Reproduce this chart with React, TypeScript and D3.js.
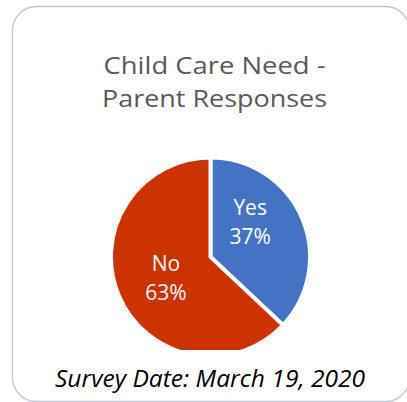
import React from "react";
import * as d3 from "d3";

const categories = ["Yes", "No"];
const values = [37, 63];
const colors = ["#4472c4", "#cc3300"];
const titleLines = ["Child Care Need -", "Parent Responses"];
const footer = "Survey Date: March 19, 2020";

export default function App() {
  const W = 407, H = 402;
  const cx = 210.5, cy = 257, r = 99.5;
  const pie = d3.pie<number>().sort(null).value((d) => d)(values);
  const arc = d3.arc<d3.PieArcDatum<number>>().innerRadius(0).outerRadius(r);
  const labelArc = d3.arc<d3.PieArcDatum<number>>().innerRadius(r * 0.5).outerRadius(r * 0.5);
  const labelNudge = [[-6, -16], [1, 0]];
  const font = "'Open Sans', sans-serif";
  const titleLens = [222, 225];
  return (
    <svg width={W} height={H} style={{ position: "absolute", left: 0, top: 0 }}>
      <defs>
        <clipPath id="plot">
          <rect x={0} y={0} width={W} height={350} />
        </clipPath>
      </defs>
      <rect x={0} y={0} width={W} height={H} fill="#fff" />
      <rect x={12.5} y={6.5} width={397} height={395} rx={24} ry={24} fill="#fff" stroke="#bcc6d6" strokeWidth={1.3} />
      {titleLines.map((t, i) => (
        <text key={t} x={214.5} y={73.5 + i * 33.5} textAnchor="middle" fontFamily={font} fontSize={24.5} fill="#595959"
          textLength={titleLens[i]} lengthAdjust="spacingAndGlyphs">
          {t}
        </text>
      ))}
      <g clipPath="url(#plot)">
        <g transform={`translate(${cx},${cy})`}>
          {pie.map((d, i) => (
            <path key={categories[i]} d={arc(d) || ""} fill={colors[i]} stroke="#fff" strokeWidth={4} strokeLinejoin="miter" />
          ))}
        </g>
      </g>
      <g transform={`translate(${cx},${cy})`}>
        {pie.map((d, i) => {
          const [lx0, ly0] = labelArc.centroid(d);
          const lx = lx0 + labelNudge[i][0];
          const ly = ly0 + labelNudge[i][1];
          return (
            <text key={categories[i]} textAnchor="middle" fontFamily={font} fontSize={21} fill="#fff">
              <tspan x={lx} y={ly - 6}>{categories[i]}</tspan>
              <tspan x={lx} y={ly + 23}>{values[i]}%</tspan>
            </text>
          );
        })}
      </g>
      <text x={210} y={386.5} textAnchor="middle" fontFamily={font} fontStyle="italic" fontSize={23.5} fill="#000"
        textLength={310} lengthAdjust="spacingAndGlyphs">
        {footer}
      </text>
    </svg>
  );
}
